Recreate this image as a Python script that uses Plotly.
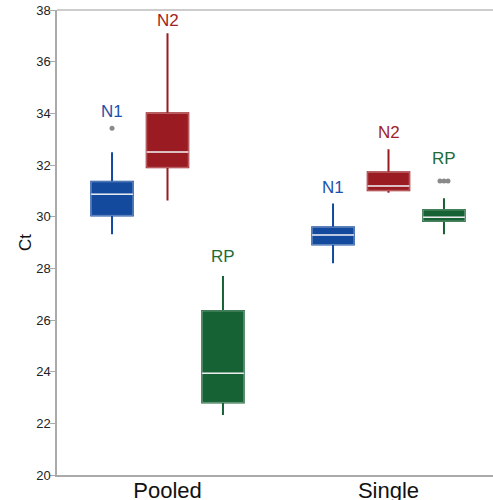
import plotly.graph_objects as go

# ---------------- data ----------------
groups = ["Pooled", "Single"]
series = ["N1", "N2", "RP"]

# five-number summaries per series, one value per group (Pooled, Single)
N1_lowerfence = [29.32, 28.20]
N1_q1 = [30.05, 28.92]
N1_median = [30.87, 29.29]
N1_q3 = [31.35, 29.59]
N1_upperfence = [32.49, 30.51]
N1_outliers = [[33.42], []]

N2_lowerfence = [30.63, 30.93]
N2_q1 = [31.91, 31.02]
N2_median = [32.50, 31.19]
N2_q3 = [34.00, 31.72]
N2_upperfence = [37.10, 32.61]
N2_outliers = [[], []]

RP_lowerfence = [22.32, 29.32]
RP_q1 = [22.81, 29.83]
RP_median = [23.94, 29.98]
RP_q3 = [26.35, 30.26]
RP_upperfence = [27.70, 30.71]
RP_outliers = [[], [31.38, 31.38, 31.38]]

# series label heights (data units) per group
N1_label_y = [34.06, 31.12]
N2_label_y = [37.59, 33.25]
RP_label_y = [28.45, 32.26]

y_ticks = [20, 22, 24, 26, 28, 30, 32, 34, 36, 38]

stats = {
    "N1": (N1_lowerfence, N1_q1, N1_median, N1_q3, N1_upperfence, N1_outliers, N1_label_y),
    "N2": (N2_lowerfence, N2_q1, N2_median, N2_q3, N2_upperfence, N2_outliers, N2_label_y),
    "RP": (RP_lowerfence, RP_q1, RP_median, RP_q3, RP_upperfence, RP_outliers, RP_label_y),
}

# ---------------- style ----------------
fill_colors = {"N1": "#134a9d", "N2": "#9a1b21", "RP": "#176234"}
label_colors = {"N1": "#1d51ab", "N2": "#a11e24", "RP": "#226b39"}

W, H = 493, 500
ML, MR, MT, MB = 57, 0, 10, 25
plot_w = W - ML - MR
px_per_cat = 221.0
x_range = [-0.5, -0.5 + plot_w / px_per_cat]

boxgap = 0.247
slot = (1 - boxgap) / len(series)
box_w = slot * 0.75
dot_step = 4.0 / px_per_cat

fig = go.Figure()
annotations = []

for si, s in enumerate(series):
    lf, q1, med, q3, uf, outs, lab_y = stats[s]
    pos = [gi + (si - (len(series) - 1) / 2) * slot for gi in range(len(groups))]
    col = fill_colors[s]
    # whiskers + box
    fig.add_trace(go.Box(
        x=pos, q1=q1, median=med, q3=q3, lowerfence=lf, upperfence=uf,
        width=box_w, whiskerwidth=0, boxpoints=False,
        fillcolor=col, line=dict(color=col, width=2),
        hoverinfo="skip", showlegend=False,
    ))
    # lighter box outline
    fig.add_trace(go.Box(
        x=pos, q1=q1, median=med, q3=q3, lowerfence=q1, upperfence=q3,
        width=box_w, whiskerwidth=0, boxpoints=False,
        fillcolor=col, line=dict(color="rgba(255,255,255,0.35)", width=1),
        hoverinfo="skip", showlegend=False,
    ))
    for gi in range(len(groups)):
        # white median line
        fig.add_trace(go.Scatter(
            x=[pos[gi] - box_w / 2, pos[gi] + box_w / 2], y=[med[gi], med[gi]],
            mode="lines", line=dict(color="rgba(240,240,244,0.95)", width=1.5),
            hoverinfo="skip", showlegend=False,
        ))
        # outliers, dodged horizontally when repeated
        vals = outs[gi]
        if vals:
            xs, ys = [], []
            seen = {}
            for v in vals:
                seen[v] = seen.get(v, 0) + 1
            for v, n in seen.items():
                for k in range(n):
                    xs.append(pos[gi] + (k - (n - 1) / 2) * dot_step)
                    ys.append(v)
            fig.add_trace(go.Scatter(
                x=xs, y=ys, mode="markers",
                marker=dict(color="#8a8a8a", size=5),
                hoverinfo="skip", showlegend=False,
            ))
        annotations.append(dict(
            x=pos[gi], y=lab_y[gi], xref="x", yref="y", text=s, showarrow=False,
            font=dict(family="Liberation Sans, Arial, sans-serif", size=17, color=label_colors[s]),
            xanchor="center", yanchor="middle",
        ))

fig.update_layout(
    width=W, height=H,
    margin=dict(l=ML, r=MR, t=MT, b=MB, autoexpand=False),
    paper_bgcolor="white", plot_bgcolor="white",
    showlegend=False,
    annotations=annotations,
    shapes=[dict(type="line", xref="paper", yref="paper", x0=0, x1=1, y0=1, y1=1,
                 line=dict(color="#cccccc", width=2))],
    font=dict(family="Liberation Sans, Arial, sans-serif", color="#222222"),
)
fig.update_xaxes(
    range=x_range, tickvals=list(range(len(groups))), ticktext=groups,
    showgrid=False, zeroline=False, showline=True, linecolor="#aaaaaa", linewidth=1.5,
    ticks="", tickfont=dict(size=22, color="#111111"), automargin=False,
    ticklabelstandoff=-5,
)
fig.update_yaxes(
    range=[20, 38], tickvals=y_ticks, showgrid=False, zeroline=False,
    showline=True, linecolor="#aaaaaa", linewidth=1.5,
    ticks="outside", ticklen=5, tickcolor="#aaaaaa", tickwidth=1,
    tickfont=dict(size=13, color="#222222"), automargin=False,
    ticklabelstandoff=-3,
    title=dict(text="Ct", font=dict(size=17, color="#111111"), standoff=0),
)

fig.write_html(
    "out.html",
    config={"displayModeBar": False},
    post_script="document.body.style.margin='0px'; document.body.style.overflow='hidden';",
)
